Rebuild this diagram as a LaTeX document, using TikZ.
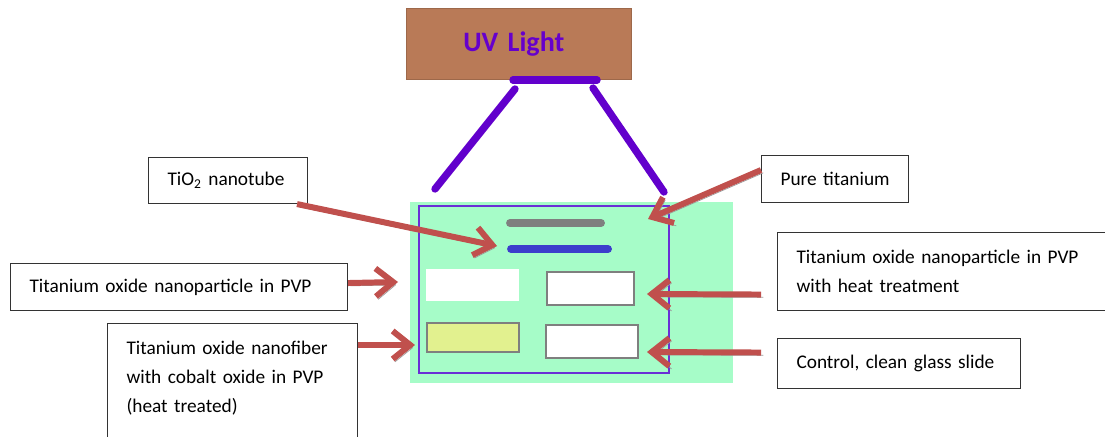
\documentclass[tikz,border=0pt]{standalone}
\usepackage{fontspec}
\setmainfont{Carlito}[WordSpace=0.85]
\usetikzlibrary{arrows.meta,positioning}
\definecolor{uvbrown}{HTML}{B97A57}
\definecolor{uvpurple}{HTML}{6600CC}
\definecolor{lamppurple}{HTML}{6200CC}
\definecolor{slidegreen}{HTML}{A6FCC8}
\definecolor{framepurple}{HTML}{6A2FD6}
\definecolor{bargray}{HTML}{7F7F7F}
\definecolor{barblue}{HTML}{3D3DCC}
\definecolor{sampleyellow}{HTML}{E2F18F}
\definecolor{arrowred}{HTML}{C0504D}
\definecolor{shadowgray}{HTML}{9A9A9A}
\newdimen\pxu \pxu=0.02cm
\newcommand\boxfont{\fontsize{11}{16.4}\selectfont\hyphenpenalty=10000 }

\begin{document}
\begin{tikzpicture}[x=0.02cm,y=-0.02cm,
  labelbox/.style={draw=black!80, line width=0.6pt, fill=white, anchor=north west,
    align=left, inner xsep=19\pxu, inner ysep=0pt, font=\boxfont},
  pointer/.style={draw=arrowred, line width=3.4pt,
    -{Straight Barb[length=10pt,width=16pt]},
    preaction={draw=shadowgray, transform canvas={shift={(1.3pt,-1.6pt)}}}},
  lamp/.style={draw=lamppurple, line width=4.2pt, line cap=round},
  bar/.style={line width=4.5pt, line cap=round},
  sample/.style={draw=bargray, line width=1.1pt}]
  \useasboundingbox (0,0) rectangle (1105,436);
  \clip (0,0) rectangle (1105,436);

  % UV lamp
  \node[draw=uvbrown!85!black, fill=uvbrown, anchor=north west, minimum height=71\pxu,
    inner xsep=57\pxu, text width=111\pxu, align=left, text=uvpurple,
    font=\fontsize{16}{19}\selectfont\bfseries] (uv) at (406,8) {UV Light};
  \draw[lamp] (513,80) -- (597,80);
  \draw[lamp] (515,89) -- (435,189);
  \draw[lamp] (593,88) -- (664,192);

  % Slide with samples
  \fill[slidegreen] (410,202) rectangle (733,383);
  \draw[framepurple, line width=1.1pt] (419,206) rectangle (669,373);
  \draw[bar, draw=bargray] (510,223) -- (601,223);
  \draw[bar, draw=barblue] (511,249) -- (608,249);
  \fill[white] (426,269) rectangle (519,301);
  \draw[sample, fill=white] (547,272) rectangle (634,305);
  \draw[sample, fill=sampleyellow] (427,323) rectangle (519,352);
  \draw[sample, fill=white] (546,325) rectangle (638,358);

  % Labels
  \node[labelbox, text width=121\pxu, minimum height=46\pxu] (tube) at (148,157)
    {\mbox{TiO\textsubscript{2} nanotube}};
  \node[labelbox, text width=299\pxu, minimum height=47\pxu] (pvp) at (10,263)
    {Titanium oxide nanoparticle in PVP};
  \node[labelbox, text width=212\pxu, inner ysep=16\pxu, text height=15\pxu,
    text depth=100\pxu] (fiber) at (107,323)
    {Titanium oxide nanofiber\\with cobalt oxide in PVP\\(heat treated)};
  \node[labelbox, text width=109\pxu, minimum height=47\pxu] (pure) at (761,155)
    {\mbox{Pure titanium}};
  \node[labelbox, text width=302\pxu, minimum height=78\pxu] (heat) at (777,232)
    {Titanium oxide nanoparticle in PVP\\with heat treatment};
  \node[labelbox, text width=205\pxu, minimum height=50\pxu] (control) at (777,338)
    {Control, clean glass slide};

  % Arrows to the samples
  \coordinate (tubetip) at (497,246);
  \coordinate (puretip) at (648,219);
  \coordinate (pvptip) at (398,282);
  \coordinate (fibertip) at (415,345);
  \coordinate (heattip) at (647,294);
  \coordinate (controltip) at (647,352);
  \draw[pointer] ([xshift=-11\pxu]tube.south east) -- (tubetip);
  \draw[pointer] ([yshift=9\pxu]pure.west) -- (puretip);
  \draw[pointer] ([yshift=4\pxu]pvp.east) -- (pvptip);
  \draw[pointer] ([yshift=-22\pxu]fiber.north east) -- (fibertip);
  \draw[pointer] ([xshift=-16\pxu,yshift=-23\pxu]heat.west) -- (heattip);
  \draw[pointer] ([xshift=-16\pxu,yshift=11\pxu]control.west) -- (controltip);
\end{tikzpicture}
\end{document}
